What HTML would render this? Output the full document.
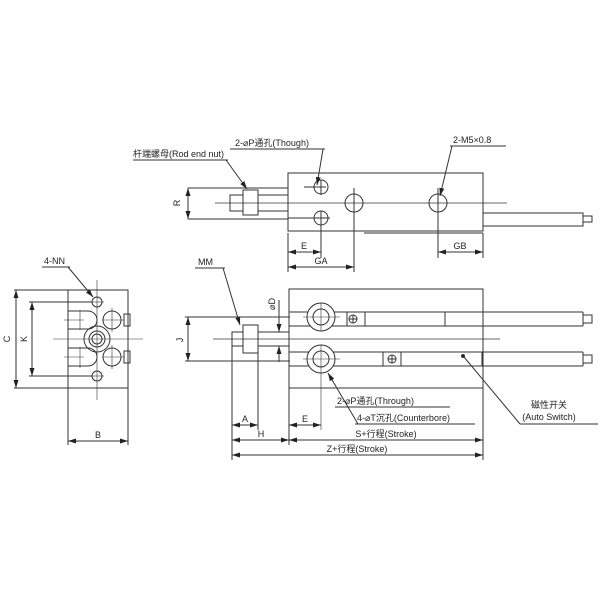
<!DOCTYPE html>
<html><head><meta charset="utf-8"><style>
html,body{margin:0;padding:0;background:#fff;}
svg{display:block;}
text{font-family:"Liberation Sans","Noto Sans CJK SC",sans-serif;font-size:9px;fill:#222;}
</style></head><body>
<svg width="600" height="600" viewBox="0 0 600 600" xmlns="http://www.w3.org/2000/svg">
<defs>
<marker id="a" markerWidth="8" markerHeight="6" refX="8" refY="3" orient="auto-start-reverse" markerUnits="userSpaceOnUse"><path d="M0,0.5 L8,3 L0,5.5z" fill="#222"/></marker>
</defs>
<g stroke="#333" stroke-width="1" fill="none">
<!-- TOP VIEW -->
<rect x="288" y="173" width="195" height="58" fill="#fff"/>
<line x1="364" y1="233" x2="483" y2="233"/>
<rect x="230" y="195" width="58" height="16"/>
<rect x="243" y="190" width="15" height="25" fill="#fff"/>
<line x1="188" y1="188" x2="288" y2="188"/>
<line x1="188" y1="219" x2="288" y2="219"/>
<line x1="215" y1="203" x2="507" y2="203" stroke-width="0.7"/>
<circle cx="321" cy="187" r="7"/><circle cx="321" cy="218" r="7"/>
<line x1="304" y1="187" x2="326" y2="187"/><line x1="321" y1="180" x2="321" y2="195"/>
<line x1="288" y1="218" x2="330" y2="218"/><line x1="321" y1="211" x2="321" y2="258"/>
<circle cx="354" cy="203" r="9"/><line x1="354" y1="188" x2="354" y2="272"/>
<circle cx="438" cy="203" r="9"/><line x1="438" y1="188" x2="438" y2="258"/>
<rect x="483" y="213" width="100" height="13"/>
<rect x="583" y="216" width="9" height="6"/>
<line x1="188" y1="188" x2="188" y2="219" marker-start="url(#a)" marker-end="url(#a)"/>
<line x1="288" y1="233" x2="288" y2="272"/><line x1="483" y1="233" x2="483" y2="258"/>
<line x1="288" y1="252" x2="321" y2="252" marker-start="url(#a)" marker-end="url(#a)"/>
<line x1="288" y1="267" x2="354" y2="267" marker-start="url(#a)" marker-end="url(#a)"/>
<line x1="438" y1="252" x2="483" y2="252" marker-start="url(#a)" marker-end="url(#a)"/>
<line x1="230" y1="149" x2="325" y2="149"/><line x1="323" y1="149" x2="317" y2="185" marker-end="url(#a)"/>
<line x1="133" y1="160" x2="228" y2="160"/><line x1="226" y1="160" x2="247" y2="189" marker-end="url(#a)"/>
<line x1="450" y1="146" x2="506" y2="146"/><line x1="452" y1="146" x2="440" y2="196" marker-end="url(#a)"/>
<line x1="195" y1="268" x2="225" y2="268"/><line x1="223" y1="268" x2="240" y2="325" marker-end="url(#a)"/>
<!-- FRONT VIEW -->
<rect x="289" y="289" width="194" height="99" fill="#fff"/>
<line x1="289" y1="312" x2="583" y2="312"/><line x1="289" y1="326" x2="583" y2="326"/>
<line x1="289" y1="352" x2="583" y2="352"/><line x1="289" y1="366" x2="583" y2="366"/>
<line x1="583" y1="312" x2="583" y2="326"/><line x1="583" y1="352" x2="583" y2="366"/>
<rect x="583" y="315" width="9" height="8"/><rect x="583" y="355" width="9" height="8"/>
<line x1="445" y1="312" x2="445" y2="326"/><line x1="482" y1="352" x2="482" y2="366"/>
<circle cx="321" cy="317" r="14" fill="#fff"/><circle cx="321" cy="317" r="8"/>
<circle cx="321" cy="359" r="14" fill="#fff"/><circle cx="321" cy="359" r="8"/>
<line x1="303" y1="317" x2="340" y2="317" stroke-width="0.6"/><line x1="321" y1="303" x2="321" y2="331" stroke-width="0.6"/>
<line x1="303" y1="359" x2="340" y2="359" stroke-width="0.6"/><line x1="321" y1="345" x2="321" y2="430" stroke-width="0.6"/>
<rect x="347" y="312" width="18" height="14"/><circle cx="353" cy="319" r="4"/>
<line x1="349" y1="319" x2="357" y2="319"/><line x1="353" y1="315" x2="353" y2="323"/>
<rect x="383" y="352" width="18" height="14"/><circle cx="392" cy="359" r="4"/>
<line x1="388" y1="359" x2="396" y2="359"/><line x1="392" y1="355" x2="392" y2="363"/>
<circle cx="463" cy="356" r="1.5" fill="#222"/>
<rect x="232" y="332" width="57" height="14" fill="#fff"/>
<rect x="243" y="325" width="15" height="28" fill="#fff"/>
<line x1="213" y1="339" x2="500" y2="339" stroke-width="0.7"/>
<line x1="279" y1="300" x2="279" y2="332" marker-end="url(#a)"/>
<line x1="279" y1="362" x2="279" y2="346" marker-end="url(#a)"/>
<line x1="185" y1="317" x2="290" y2="317"/><line x1="185" y1="361" x2="290" y2="361"/>
<line x1="188" y1="317" x2="188" y2="361" marker-start="url(#a)" marker-end="url(#a)"/>
<line x1="232" y1="346" x2="232" y2="460"/><line x1="258" y1="353" x2="258" y2="430"/>
<line x1="289" y1="388" x2="289" y2="445"/><line x1="483" y1="388" x2="483" y2="460"/>
<line x1="232" y1="425" x2="258" y2="425" marker-start="url(#a)" marker-end="url(#a)"/>
<line x1="289" y1="425" x2="321" y2="425" marker-start="url(#a)" marker-end="url(#a)"/>
<line x1="232" y1="440" x2="289" y2="440" marker-start="url(#a)" marker-end="url(#a)"/>
<line x1="289" y1="440" x2="483" y2="440" marker-start="url(#a)" marker-end="url(#a)"/>
<line x1="232" y1="455" x2="483" y2="455" marker-start="url(#a)" marker-end="url(#a)"/>
<line x1="335" y1="407" x2="450" y2="407"/>
<line x1="355" y1="424" x2="475" y2="424"/><line x1="358" y1="424" x2="328" y2="373" marker-end="url(#a)"/>
<line x1="520" y1="424" x2="598" y2="424"/><line x1="520" y1="424" x2="464" y2="357"/>
<!-- END VIEW -->
<path d="M68,290 H128 V388 H68 V366 H88 A9,9 0 0 0 88,348 H68 V329 H88 A9,9 0 0 0 88,311 H68 Z" fill="#fff"/>
<line x1="68" y1="311" x2="68" y2="329"/><line x1="68" y1="348" x2="68" y2="366"/>
<circle cx="97" cy="302" r="5"/><circle cx="97" cy="376" r="5"/>
<circle cx="97" cy="339" r="13"/><circle cx="97" cy="339" r="8"/><circle cx="97" cy="339" r="5"/>
<circle cx="112" cy="320" r="9"/><circle cx="112" cy="357" r="9"/>
<rect x="124" y="314" width="6" height="12"/><rect x="124" y="351" width="6" height="12"/>
<line x1="53" y1="339" x2="143" y2="339" stroke-width="0.6"/>
<line x1="97" y1="280" x2="97" y2="400" stroke-width="0.6"/>
<line x1="64" y1="320" x2="84" y2="320" stroke-width="0.6"/><line x1="80" y1="310" x2="80" y2="330" stroke-width="0.6"/>
<line x1="64" y1="357" x2="84" y2="357" stroke-width="0.6"/><line x1="80" y1="347" x2="80" y2="368" stroke-width="0.6"/>
<line x1="102" y1="320" x2="124" y2="320" stroke-width="0.6"/><line x1="112" y1="308" x2="112" y2="332" stroke-width="0.6"/>
<line x1="102" y1="357" x2="124" y2="357" stroke-width="0.6"/><line x1="112" y1="345" x2="112" y2="369" stroke-width="0.6"/>
<line x1="90" y1="302" x2="104" y2="302" stroke-width="0.6"/><line x1="90" y1="376" x2="104" y2="376" stroke-width="0.6"/>
<line x1="14" y1="290" x2="68" y2="290"/><line x1="14" y1="388" x2="68" y2="388"/>
<line x1="29" y1="302" x2="92" y2="302"/><line x1="29" y1="376" x2="92" y2="376"/>
<line x1="16" y1="290" x2="16" y2="388" marker-start="url(#a)" marker-end="url(#a)"/>
<line x1="32" y1="302" x2="32" y2="376" marker-start="url(#a)" marker-end="url(#a)"/>
<line x1="68" y1="388" x2="68" y2="445"/><line x1="128" y1="388" x2="128" y2="445"/>
<line x1="68" y1="441" x2="128" y2="441" marker-start="url(#a)" marker-end="url(#a)"/>
<line x1="42" y1="267" x2="70" y2="267"/><line x1="68" y1="267" x2="93" y2="297" marker-end="url(#a)"/>
</g>
<g>
<text x="235" y="146">2-⌀P通孔(Though)</text>
<text x="133" y="157">杆端螺母(Rod end nut)</text>
<text x="453" y="143">2-M5×0.8</text>
<text x="180" y="203" transform="rotate(-90 180 203)" text-anchor="middle">R</text>
<text x="304" y="249" text-anchor="middle">E</text>
<text x="321" y="264" text-anchor="middle">GA</text>
<text x="460" y="249" text-anchor="middle">GB</text>
<text x="198" y="265">MM</text>
<text x="275" y="304" transform="rotate(-90 275 304)" text-anchor="middle">⌀D</text>
<text x="183" y="340" transform="rotate(-90 183 340)" text-anchor="middle">J</text>
<text x="245" y="422" text-anchor="middle">A</text>
<text x="305" y="422" text-anchor="middle">E</text>
<text x="261" y="437" text-anchor="middle">H</text>
<text x="386" y="437" text-anchor="middle">S+行程(Stroke)</text>
<text x="357" y="452" text-anchor="middle">Z+行程(Stroke)</text>
<text x="337" y="404">2-⌀P通孔(Through)</text>
<text x="357" y="421">4-⌀T沉孔(Counterbore)</text>
<text x="549" y="408" text-anchor="middle">磁性开关</text>
<text x="549" y="420" text-anchor="middle">(Auto Switch)</text>
<text x="44" y="264">4-NN</text>
<text x="10" y="339" transform="rotate(-90 10 339)" text-anchor="middle">C</text>
<text x="27" y="339" transform="rotate(-90 27 339)" text-anchor="middle">K</text>
<text x="98" y="438" text-anchor="middle">B</text>
</g>
</svg>
</body></html>
